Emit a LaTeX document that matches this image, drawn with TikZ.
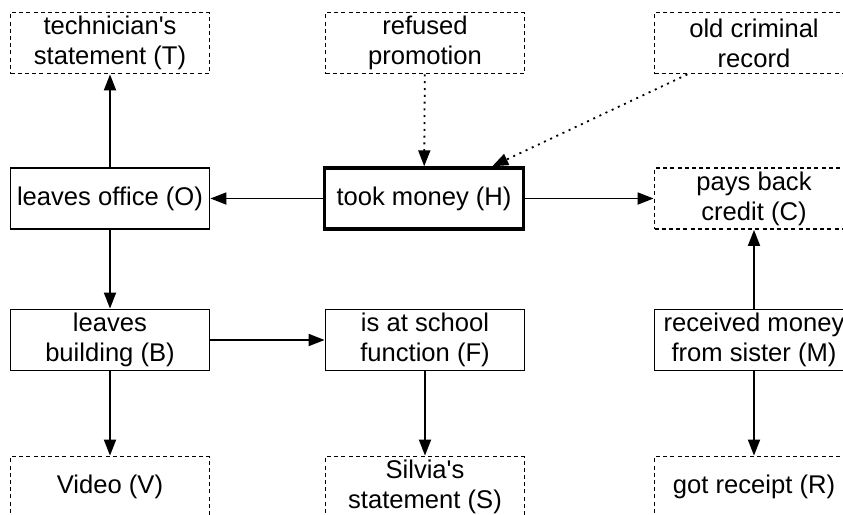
\documentclass[tikz,border=0pt]{standalone}
\usepackage{fontspec}
\setmainfont{Liberation Sans}[Ligatures=TeXOff]
\usetikzlibrary{arrows.meta}
\tikzset{
  box/.style={draw, line width=0.9pt, minimum width=99.5pt, minimum height=30.5pt,
    inner sep=1pt, align=center, font=\fontsize{12.8}{15}\selectfont},
  evbox/.style={box, dash pattern=on 2pt off 1.6pt},
  mainbox/.style={box, line width=1.7pt},
  link/.style={-{Triangle[length=8pt,width=6pt]}, line width=0.9pt},
  weak/.style={link, dash pattern=on 1pt off 2.4pt}
}
\begin{document}
\begin{tikzpicture}[x=0.5pt,y=-0.5pt]
        \useasboundingbox (0,0) rectangle (843,515);
        \clip (0,0) rectangle (843,515);

        % top row
        \node[evbox] (T) at (110,43) {technician's\\statement (T)};
        \node[evbox] (P) at (425,43) {refused\\promotion};
        \node[evbox] (K) at (754,43) {old criminal\\record};

        % middle row
        \node[box] (O) at (110,198.5) {leaves office (O)};
        \node[mainbox] (H) at (424,198.5) {took money (H)};
        \node[evbox] (C) at (754,198.5) {pays back\\credit (C)};

        % lower row
        \node[box] (B) at (110,340) {leaves\\building (B)};
        \node[box] (F) at (425,340) {is at school\\function (F)};
        \node[box] (M) at (754,340) {received money\\from sister (M)};

        % bottom row
        \node[evbox] (V) at (110,487) {Video (V)};
        \node[evbox] (S) at (425,487) {Silvia's\\statement (S)};
        \node[evbox] (R) at (754,487) {got receipt (R)};

        % links
        \draw[weak] (P) -- (H);
        \draw[weak] (K) -- (H);
        \draw[link] (H) -- (O);
        \draw[link] (H) -- (C);
        \draw[link] (O) -- (T);
        \draw[link] (O) -- (B);
        \draw[link] (B) -- (F);
        \draw[link] (B) -- (V);
        \draw[link] (F) -- (S);
        \draw[link] (M) -- (C);
        \draw[link] (M) -- (R);
    \end{tikzpicture}
\end{document}
